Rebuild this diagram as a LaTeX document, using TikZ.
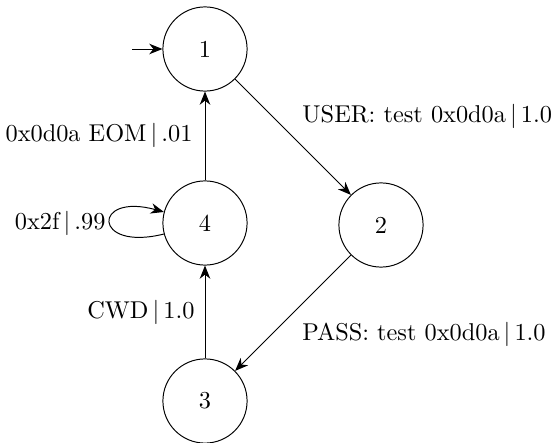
\documentclass[tikz,border=0pt]{standalone}
\usetikzlibrary{arrows.meta}
\begin{document}
\begin{tikzpicture}[x=0.411pt,y=-0.411pt,
  state/.style={draw,circle,minimum size=34.6pt,inner sep=0pt},
  lbl/.style={inner sep=0pt},
  edge/.style={-{Stealth[length=5.4pt,width=4.3pt,inset=1.7pt]}},
  ]
\useasboundingbox (0,0) rectangle (555,443);
\node[state] (n1) at (205,49) {1};
\node[state] (n4) at (205,223) {4};
\node[state] (n2) at (381,225) {2};
\node[state] (n3) at (205,401) {3};
\coordinate (init) at (132,49);
\draw[edge] (init) -- (n1);
\draw[edge] (n1) -- (n2);
\draw[edge] (n2) -- (n3);
\draw[edge] (n3) -- (n4);
\draw[edge] (n4) -- (n1);
\draw[edge] (n4.195) .. controls (92,252) and (92,192) .. (n4.165);
\node[lbl,anchor=base west] (l12) at (302,123) {USER: test 0x0d0a\,$|$\,1.0};
\node[lbl,anchor=base west] (l23) at (302,340) {PASS: test 0x0d0a\,$|$\,1.0};
\node[lbl,anchor=base east] (l41) at (193,142) {0x0d0a EOM\,$|$\,.01};
\node[lbl,anchor=base east] (l44) at (106,229) {0x2f\,$|$\,.99};
\node[lbl,anchor=base east] (l34) at (195,318) {CWD\,$|$\,1.0};
\end{tikzpicture}
\end{document}
